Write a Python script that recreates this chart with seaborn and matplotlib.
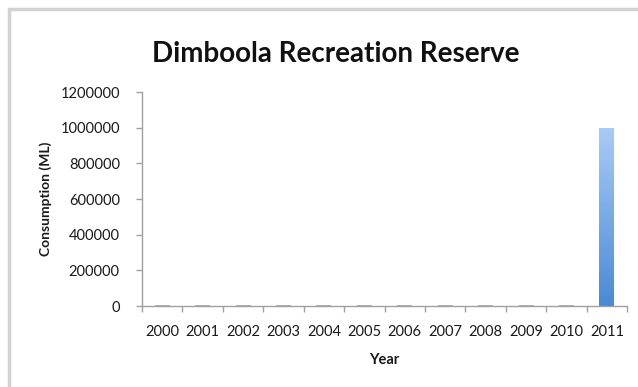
import numpy as np
import pandas as pd
import matplotlib
matplotlib.use("Agg")
import matplotlib.pyplot as plt
from matplotlib.colors import LinearSegmentedColormap
from matplotlib.patches import Rectangle
import seaborn as sns

# Annual water consumption (ML)
years = ["2000", "2001", "2002", "2003", "2004", "2005",
         "2006", "2007", "2008", "2009", "2010", "2011"]
consumption = [7200, 8100, 7800, 6900, 7500, 8300,
               7700, 7100, 7900, 7400, 8000, 1000000]
y_ticks = [0, 200000, 400000, 600000, 800000, 1000000, 1200000]

df = pd.DataFrame({"Year": years, "Consumption": consumption})

sns.set_theme(style="white")
plt.rcParams["font.family"] = ["Lato", "DejaVu Sans"]

fig = plt.figure(figsize=(6.38, 3.87), dpi=100)
ax = fig.add_axes([0.2226, 0.2093, 0.7604, 0.5527])

sns.barplot(data=df, x="Year", y="Consumption", color="#6fa6e6",
            width=0.37, ax=ax)

# vertical gradient fill for each bar, light at the top, deeper at the base
grad = LinearSegmentedColormap.from_list("barfill", ["#4a8ad4", "#a9cbf7"])
gimg = np.linspace(0, 1, 256).reshape(-1, 1)
for p in ax.patches:
    x0, y0 = p.get_x(), p.get_y()
    w, h = p.get_width(), p.get_height()
    p.set_edgecolor("none")
    if h > 100000:
        p.set_facecolor("none")
        im = ax.imshow(gimg, cmap=grad, origin="lower", aspect="auto",
                       extent=[x0, x0 + w, y0, y0 + h],
                       zorder=p.get_zorder() + 0.1)
        im.set_clip_path(p)
    else:
        p.set_facecolor("#8fb8ec")

ax.set_xlim(-0.5, 11.5)
ax.set_ylim(0, 1200000)
ax.set_yticks(y_ticks)
ax.set_yticklabels([str(v) for v in y_ticks])

# category labels centred, tick marks at category boundaries
ax.set_xticks(np.arange(len(years)))
ax.set_xticklabels(years)
ax.set_xticks(np.arange(-0.5, len(years)), minor=True)
ax.tick_params(axis="x", which="major", length=0, pad=14,
               labelsize=10.5, labelcolor="#1a1a1a")
ax.tick_params(axis="x", which="minor", length=4, width=1,
               color="#a0a0a0", direction="out", bottom=True)
ax.tick_params(axis="y", which="major", length=4, width=1,
               color="#a0a0a0", direction="out", left=True,
               labelsize=10.5, labelcolor="#1a1a1a", pad=12)

for side in ["top", "right"]:
    ax.spines[side].set_visible(False)
for side in ["left", "bottom"]:
    ax.spines[side].set_color("#a0a0a0")
    ax.spines[side].set_linewidth(1)

ax.set_xlabel("Year", fontsize=10.5, fontweight="bold", color="#1a1a1a",
              labelpad=10)
ax.set_ylabel("Consumption (ML)", fontsize=10, fontweight="bold",
              color="#1a1a1a", labelpad=6)

fig.text(0.527, 0.86, "Dimboola Recreation Reserve", ha="center",
         va="center", fontsize=20, fontweight="bold", color="#111111")

# light grey frame around the chart
fig.patches.append(Rectangle((9 / 638, -0.1), 1.2, 1.1 - 9 / 387,
                             transform=fig.transFigure, fill=False,
                             edgecolor="#d2d2d2", linewidth=2.5))

fig.savefig("out.png", dpi=100, facecolor="white")
